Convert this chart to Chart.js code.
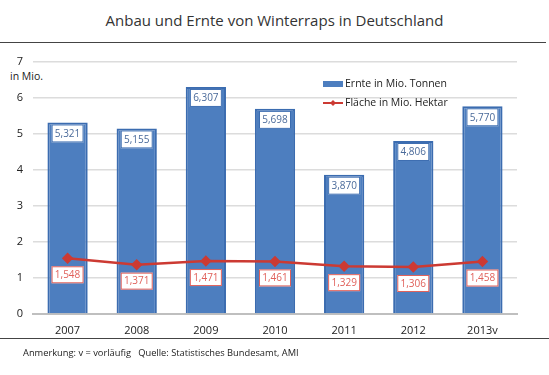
<!DOCTYPE html>
<html><head><meta charset="utf-8">
<script src="https://cdn.jsdelivr.net/npm/chart.js@4"></script>
<style>
html,body{margin:0;padding:0;background:#fff;}
#wrap{position:relative;width:549px;height:375px;overflow:hidden;font-family:"Open Sans",sans-serif;}
#title{position:absolute;left:0;width:549px;top:10px;text-align:center;font-size:15px;color:#333;}
#topline{position:absolute;left:0;width:546px;top:42px;height:1px;background:#444;}
#botline{position:absolute;left:0;width:549px;top:338px;height:1px;background:#444;}
#note{position:absolute;left:23px;top:346px;font-size:9.3px;color:#222;}
#unit{position:absolute;left:10px;top:69px;font-size:10.5px;color:#222;}
canvas{position:absolute;left:0;top:0;}
</style></head>
<body><div id="wrap">
<div id="title">Anbau und Ernte von Winterraps in Deutschland</div>
<div id="topline"></div>
<div id="unit">in Mio.</div>
<canvas id="c" width="549" height="375"></canvas>
<div id="botline"></div>
<div id="note">Anmerkung: v = vorläufig&nbsp;&nbsp; Quelle: Statistisches Bundesamt, AMI</div>
</div>
<script>
const categories = ["2007","2008","2009","2010","2011","2012","2013v"];
const ernte = [5.321,5.155,6.307,5.698,3.870,4.806,5.770];
const flaeche = [1.548,1.371,1.471,1.461,1.329,1.306,1.458];
const yTicks = [0,1,2,3,4,5,6,7];
const ernteLabel = "Ernte in Mio. Tonnen";
const flaecheLabel = "Fläche in Mio. Hektar";

const fmt = v => v.toFixed(3).replace('.', ',');

const labelPlugin = {
  id:'labels',
  afterDatasetsDraw(chart){
    const ctx = chart.ctx;
    ctx.save();
    ctx.font = '10px "Open Sans"';
    ctx.textAlign='center'; ctx.textBaseline='middle';
    chart.getDatasetMeta(0).data.forEach((el,i)=>{
      const w=32,h=18;
      const x=el.x-w/2, y=el.y+2;
      ctx.fillStyle='#fff'; ctx.fillRect(x,y,w,h);
      ctx.strokeStyle='#3b6cb0'; ctx.lineWidth=1; ctx.strokeRect(x+0.5,y+0.5,w-1,h-1);
      ctx.fillStyle='#4a6a9a'; ctx.fillText(fmt(ernte[i]),el.x,y+h/2+0.5);
    });
    chart.getDatasetMeta(1).data.forEach((el,i)=>{
      const w=32,h=17;
      const x=el.x-w/2, y=el.y+8;
      ctx.fillStyle='#fff'; ctx.fillRect(x,y,w,h);
      ctx.strokeStyle='#e0605a'; ctx.lineWidth=1; ctx.strokeRect(x+0.5,y+0.5,w-1,h-1);
      ctx.fillStyle='#e0605a'; ctx.fillText(fmt(flaeche[i]),el.x,y+h/2+0.5);
    });
    const lx=323, ly1=84, ly2=103;
    ctx.font = '10.5px "Open Sans"';
    ctx.fillStyle='#4d7ebf'; ctx.fillRect(lx,ly1-3,20,6);
    ctx.strokeStyle='#cc3a33'; ctx.lineWidth=2;
    ctx.beginPath(); ctx.moveTo(lx,ly2); ctx.lineTo(lx+20,ly2); ctx.stroke();
    ctx.fillStyle='#cc3a33';
    ctx.beginPath(); ctx.moveTo(lx+10,ly2-3); ctx.lineTo(lx+13,ly2); ctx.lineTo(lx+10,ly2+3); ctx.lineTo(lx+7,ly2); ctx.closePath(); ctx.fill();
    ctx.fillStyle='#222'; ctx.textAlign='left';
    ctx.fillText(ernteLabel,lx+22,ly1);
    ctx.fillText(flaecheLabel,lx+22,ly2);
    ctx.restore();
  }
};

new Chart(document.getElementById('c'),{
  data:{
    labels:categories,
    datasets:[
      {type:'bar',label:ernteLabel,data:ernte,backgroundColor:'#4d7ebf',borderColor:'#3b6cb0',borderWidth:2,barPercentage:0.82,categoryPercentage:0.71,order:2},
      {type:'line',label:flaecheLabel,data:flaeche,borderColor:'#cc3a33',backgroundColor:'#cc3a33',borderWidth:2.5,pointStyle:'rectRot',pointRadius:4,pointHoverRadius:4,tension:0,order:1}
    ]
  },
  options:{
    responsive:false,animation:false,
    layout:{padding:{top:62,right:32,bottom:37,left:0}},
    plugins:{legend:{display:false},tooltip:{enabled:false}},
    scales:{
      x:{grid:{display:false},border:{color:'#bfbfbf',width:2},
         ticks:{color:'#222',font:{family:'Open Sans',size:11},padding:2},
         afterFit(s){s.height=24;}},
      y:{min:0,max:7,afterBuildTicks(s){s.ticks=yTicks.map(v=>({value:v}));},
         grid:{color:'#dcdcdc',lineWidth:1.5,drawTicks:false},border:{display:false},
         ticks:{color:'#222',font:{family:'Open Sans',size:11},padding:10},
         afterFit(s){s.width=33;}}
    }
  },
  plugins:[labelPlugin]
});
</script>
</body></html>
